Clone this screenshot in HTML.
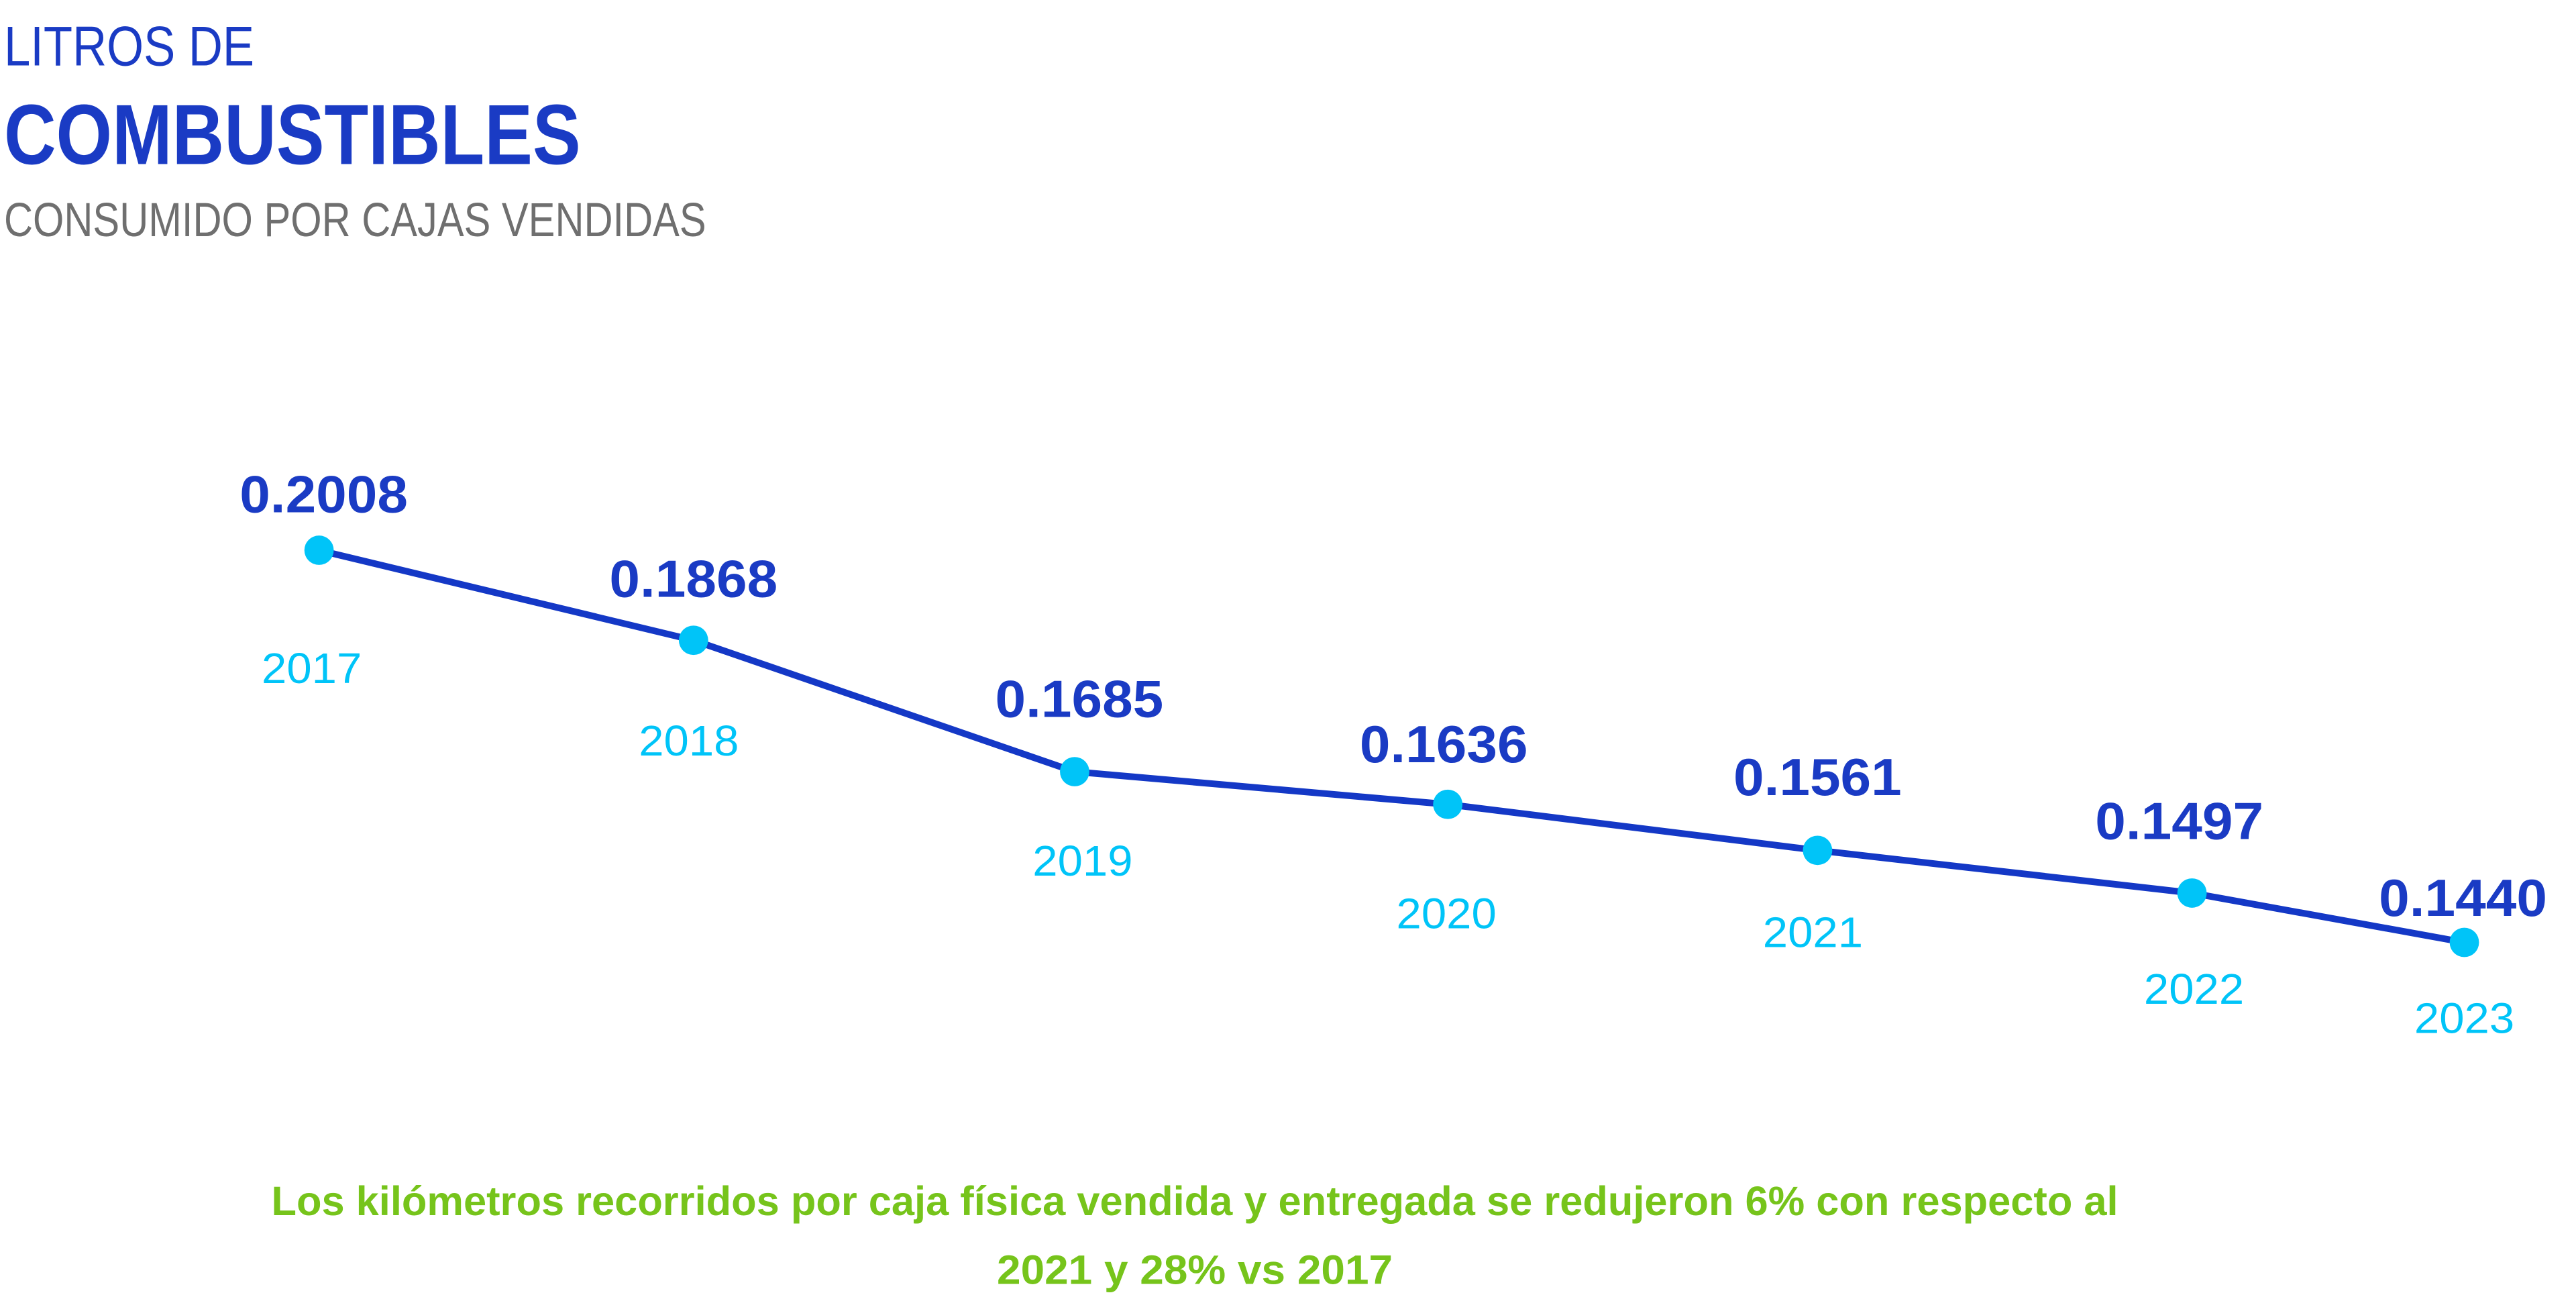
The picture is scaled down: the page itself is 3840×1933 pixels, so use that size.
<!DOCTYPE html>
<html><head><meta charset="utf-8"><style>
html,body{margin:0;padding:0;background:#fff;}
svg{display:block;}
text{font-family:"Liberation Sans",sans-serif;}
</style></head><body>
<svg width="3840" height="1933" viewBox="0 0 3840 1933" xmlns="http://www.w3.org/2000/svg">
<g transform="scale(0.995 0.994)">
<text x="6" y="98" font-size="84" fill="#1a3bc4" textLength="375" lengthAdjust="spacingAndGlyphs">LITROS DE</text>
<text x="6" y="246" font-size="128" font-weight="bold" fill="#1a3bc4" textLength="864" lengthAdjust="spacingAndGlyphs">COMBUSTIBLES</text>
<text x="6" y="354" font-size="72" fill="#6f6f6f" textLength="1052" lengthAdjust="spacingAndGlyphs">CONSUMIDO POR CAJAS VENDIDAS</text>
<polyline points="478,825 1039,960 1610,1157 2169,1206 2723,1275 3284,1339 3692,1413" fill="none" stroke="#1438c6" stroke-width="10" stroke-linejoin="round"/>
<g fill="#00c4f8">
<circle cx="478" cy="825" r="22"/><circle cx="1039" cy="960" r="22"/><circle cx="1610" cy="1157" r="22"/><circle cx="2169" cy="1206" r="22"/><circle cx="2723" cy="1275" r="22"/><circle cx="3284" cy="1339" r="22"/><circle cx="3692" cy="1413" r="22"/>
</g>
<g font-size="78" font-weight="bold" fill="#1a3bc4" text-anchor="middle">
<text x="485" y="768" textLength="252" lengthAdjust="spacingAndGlyphs">0.2008</text>
<text x="1039" y="895" textLength="252" lengthAdjust="spacingAndGlyphs">0.1868</text>
<text x="1617" y="1075" textLength="252" lengthAdjust="spacingAndGlyphs">0.1685</text>
<text x="2163" y="1143" textLength="252" lengthAdjust="spacingAndGlyphs">0.1636</text>
<text x="2723" y="1192" textLength="252" lengthAdjust="spacingAndGlyphs">0.1561</text>
<text x="3265" y="1258" textLength="252" lengthAdjust="spacingAndGlyphs">0.1497</text>
<text x="3690" y="1373" textLength="252" lengthAdjust="spacingAndGlyphs">0.1440</text>
</g>
<g font-size="64" fill="#00c4f8" text-anchor="middle">
<text x="467" y="1024" textLength="150" lengthAdjust="spacingAndGlyphs">2017</text>
<text x="1032" y="1133" textLength="150" lengthAdjust="spacingAndGlyphs">2018</text>
<text x="1622" y="1313" textLength="150" lengthAdjust="spacingAndGlyphs">2019</text>
<text x="2167" y="1392" textLength="150" lengthAdjust="spacingAndGlyphs">2020</text>
<text x="2716" y="1420" textLength="150" lengthAdjust="spacingAndGlyphs">2021</text>
<text x="3287" y="1505" textLength="150" lengthAdjust="spacingAndGlyphs">2022</text>
<text x="3692" y="1549" textLength="150" lengthAdjust="spacingAndGlyphs">2023</text>
</g>
<g font-size="62" font-weight="bold" fill="#76c41b" text-anchor="middle">
<text x="1790" y="1822" textLength="2767" lengthAdjust="spacingAndGlyphs">Los kilómetros recorridos por caja física vendida y entregada se redujeron 6% con respecto al</text>
<text x="1790" y="1925" textLength="593" lengthAdjust="spacingAndGlyphs">2021 y 28% vs 2017</text>
</g>
</g>
</svg>
</body></html>
